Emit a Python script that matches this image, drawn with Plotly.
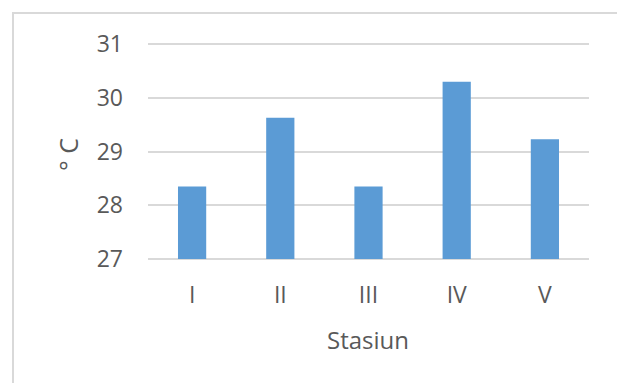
import plotly.graph_objects as go

# Water temperature per station
stations = ["I", "II", "III", "IV", "V"]
temperature = [28.35, 29.63, 28.35, 30.30, 29.23]
y_ticks = [27, 28, 29, 30, 31]

W, H = 617, 383
L, R, T, B = 148, 28, 42, 122
pw, ph = W - L - R, H - T - B
# keep 2px of headroom so the 27 and 31 grid lines are drawn
pad = 2 * 4 / (ph - 4)
axis_floor = y_ticks[0]


def px_to_paper_x(px):
    return (px - L) / pw


def px_to_paper_y(py):
    return (H - B - py) / ph


# bars rise from the axis floor (27) to each station's temperature
fig = go.Figure(
    go.Bar(
        x=stations,
        y=[t - axis_floor for t in temperature],
        base=axis_floor,
        customdata=temperature,
        hovertemplate="%{x}: %{customdata} °C<extra></extra>",
        marker=dict(color="#5B9BD5", line=dict(width=0)),
        width=0.32,
    )
)

font_family = "Open Sans, Liberation Sans, sans-serif"
tick_color = "#595959"

fig.update_layout(
    width=W,
    height=H,
    margin=dict(l=L, r=R, t=T, b=B),
    paper_bgcolor="white",
    plot_bgcolor="white",
    showlegend=False,
    font=dict(family=font_family, color=tick_color, size=23),
    xaxis=dict(
        showgrid=False,
        showline=False,
        ticks="",
        tickfont=dict(size=23, color=tick_color),
        ticklabelstandoff=18,
    ),
    yaxis=dict(
        range=[y_ticks[0] - pad, y_ticks[-1] + pad],
        tickvals=y_ticks,
        showgrid=True,
        gridcolor="#D9D9D9",
        gridwidth=2,
        zeroline=False,
        showline=False,
        ticks="",
        tickfont=dict(size=23, color=tick_color),
        ticklabelstandoff=24,
    ),
    shapes=[
        dict(
            type="rect",
            xref="paper",
            yref="paper",
            x0=px_to_paper_x(13),
            x1=px_to_paper_x(640),
            y0=px_to_paper_y(400),
            y1=px_to_paper_y(13),
            line=dict(color="#D9D9D9", width=2),
            fillcolor="rgba(0,0,0,0)",
            layer="below",
        )
    ],
    annotations=[
        dict(
            text="Stasiun",
            xref="paper",
            yref="paper",
            x=px_to_paper_x(368),
            y=px_to_paper_y(339),
            showarrow=False,
            font=dict(size=24, color=tick_color, family=font_family),
            xanchor="center",
            yanchor="middle",
        ),
        dict(
            text="° C",
            xref="paper",
            yref="paper",
            x=px_to_paper_x(68),
            y=px_to_paper_y(155),
            showarrow=False,
            textangle=-90,
            font=dict(size=25, color=tick_color, family=font_family),
            xanchor="center",
            yanchor="middle",
        ),
    ],
)

fig.write_html("out.html")
